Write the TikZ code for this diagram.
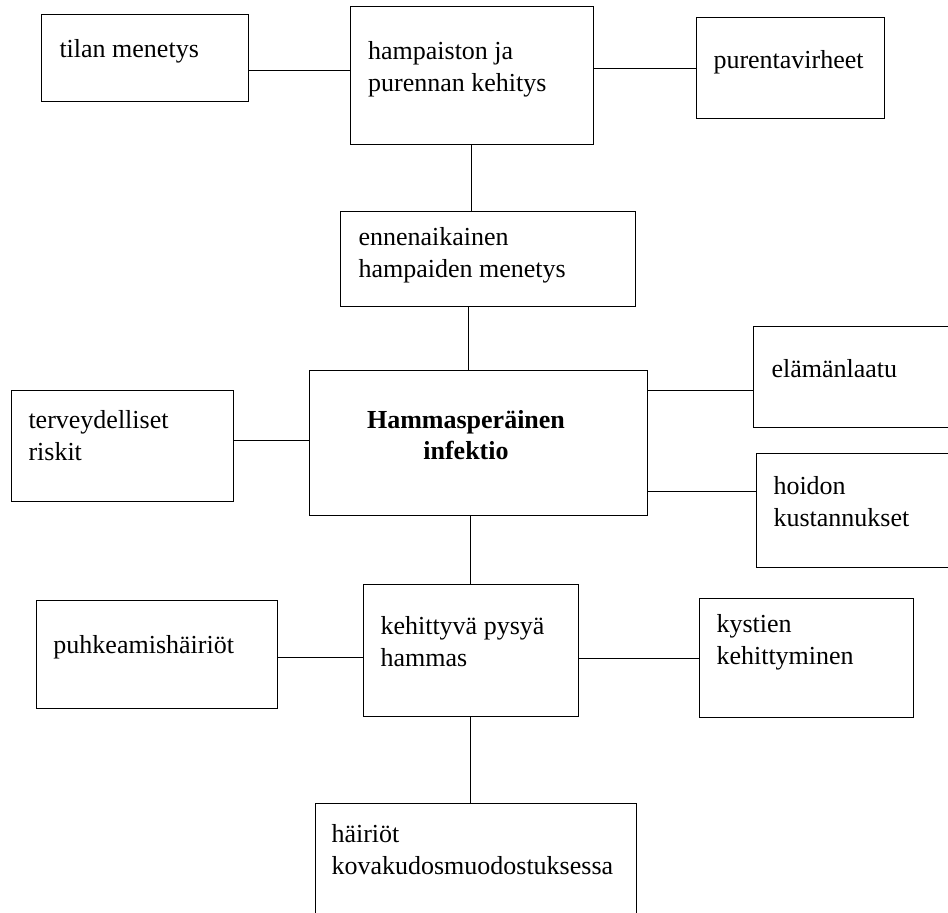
\documentclass[tikz,border=0pt]{standalone}
\usepackage{fontspec}
\setmainfont{Liberation Serif}
\begin{document}
\begin{tikzpicture}[x=0.5pt,y=0.5pt,line width=0.5pt,
  box/.style={draw,inner sep=0pt},
  txt/.style={anchor=north west,inner sep=0pt,align=left,font=\fontsize{13}{15.75}\selectfont}]

\useasboundingbox (0,0) rectangle (948,-913);
\clip (0,0) rectangle (948,-913);

\node (tilan) at (144.75,-58.5) [box,minimum width=103.75pt,minimum height=43.5pt] {};
\node (hamp) at (471.85,-76) [box,minimum width=121.15pt,minimum height=69pt] {};
\node (purenta) at (790.25,-68.5) [box,minimum width=93.75pt,minimum height=50.5pt] {};
\node (ennen) at (487.5,-259.5) [box,minimum width=147.5pt,minimum height=47.5pt] {};
\node (elama) at (856.5,-377.5) [box,minimum width=103.5pt,minimum height=50.5pt] {};
\node (terv) at (122,-446.5) [box,minimum width=111pt,minimum height=55.5pt] {};
\node (infektio) at (478.5,-443.5) [box,minimum width=169pt,minimum height=72.5pt] {};
\node (hoidon) at (858,-511) [box,minimum width=102pt,minimum height=57pt] {};
\node (puhk) at (156.5,-655) [box,minimum width=120.5pt,minimum height=54pt] {};
\node (kehitt) at (470.8,-651) [box,minimum width=107.8pt,minimum height=66pt] {};
\node (kystien) at (806.25,-658.5) [box,minimum width=106.75pt,minimum height=59.5pt] {};
\node (hairiot) at (475.5,-872) [box,minimum width=160.5pt,minimum height=68pt] {};

\node (tilan-t) at (59,-39) [txt] {tilan menetys};
\node (hamp-t) at (367.6,-41) [txt] {hampaiston ja\\purennan kehitys};
\node (purenta-t) at (713,-50) [txt] {purentavirheet};
\node (ennen-t) at (358,-227) [txt] {ennenaikainen\\hampaiden menetys};
\node (elama-t) at (771,-359) [txt] {elämänlaatu};
\node (terv-t) at (28,-410) [txt] {terveydelliset\\riskit};
\node (infektio-t) at (466,-410) [txt,anchor=north,align=center,font=\fontsize{13}{15.25}\selectfont\bfseries] {Hammasperäinen\\infektio};
\node (hoidon-t) at (773,-476) [txt] {hoidon\\kustannukset};
\node (puhk-t) at (53,-635) [txt] {puhkeamishäiriöt};
\node (kehitt-t) at (380,-616) [txt] {kehittyvä pysyä\\hammas};
\node (kystien-t) at (716,-614) [txt] {kystien\\kehittyminen};
\node (hairiot-t) at (331,-824) [txt] {häiriöt\\kovakudosmuodostuksessa};

\draw ([yshift=-6.25pt]tilan.east) -- ([yshift=-6.25pt]tilan.east -| hamp.west);
\draw (purenta.west -| hamp.east) -- (purenta.west);
\draw (hamp.south) -- (hamp.south |- ennen.north);
\draw ([xshift=-5pt]infektio.north |- ennen.south) -- ([xshift=-5pt]infektio.north);
\draw ([yshift=-6.75pt]elama.west -| infektio.east) -- ([yshift=-6.75pt]elama.west);
\draw ([yshift=2.75pt]terv.east) -- ([yshift=2.75pt]terv.east -| infektio.west);
\draw ([yshift=9.5pt]hoidon.west -| infektio.east) -- ([yshift=9.5pt]hoidon.west);
\draw (kehitt.north |- infektio.south) -- (kehitt.north);
\draw ([yshift=-1.5pt]puhk.east) -- ([yshift=-1.5pt]puhk.east -| kehitt.west);
\draw (kystien.west -| kehitt.east) -- (kystien.west);
\draw (kehitt.south) -- (kehitt.south |- hairiot.north);

\end{tikzpicture}
\end{document}
